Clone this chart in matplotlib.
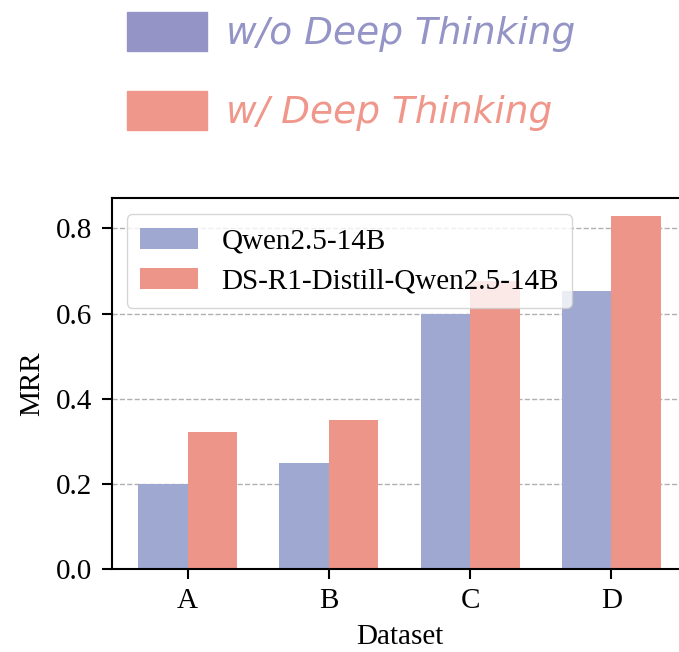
import numpy as np
import matplotlib.pyplot as plt
from matplotlib.patches import Rectangle

# datos
datasets = ['A', 'B', 'C', 'D']
mrr_qwen = [0.20, 0.25, 0.60, 0.654]
mrr_ds = [0.322, 0.35, 0.676, 0.83]
series = ['Qwen2.5-14B', 'DS-R1-Distill-Qwen2.5-14B']
top_labels = ['w/o Deep Thinking', 'w/ Deep Thinking']

c_blue = '#9FA8D0'
c_red = '#EE958A'
c_top = ['#9494C6', '#F0978B']

W, H = 679, 652
fig = plt.figure(figsize=(W / 100, H / 100), dpi=100)

# eje que se sale un poco por la derecha (la imagen original esta recortada)
ax = fig.add_axes([112 / W, 1 - 569 / H, (687 - 112) / W, (569 - 198) / H])

x = np.arange(len(datasets))
ancho = 0.35
ax.bar(x - ancho / 2, mrr_qwen, ancho, color=c_blue, label=series[0], zorder=2)
ax.bar(x + ancho / 2, mrr_ds, ancho, color=c_red, label=series[1], zorder=2)

ax.set_xticks(x)
ax.set_xticklabels(datasets)
ax.set_yticks([0.0, 0.2, 0.4, 0.6, 0.8])
ax.yaxis.grid(True, linestyle='--', color='#b0b0b0', linewidth=1.0, zorder=0)
ax.set_axisbelow(True)

serif = 'Liberation Serif'
for lab in ax.get_xticklabels() + ax.get_yticklabels():
    lab.set_fontfamily(serif)
    lab.set_fontsize(21)
ax.tick_params(length=7, width=1.5)
ax.tick_params(axis='y', pad=7)
ax.tick_params(axis='x', pad=7)
for s in ax.spines.values():
    s.set_linewidth(1.5)
ax.set_xlabel('Dataset', fontfamily=serif, fontsize=21, labelpad=7)
ax.set_ylabel('MRR', fontfamily=serif, fontsize=21, labelpad=8)

leg = ax.legend(loc='upper left', prop={'family': serif, 'size': 21},
                handlelength=2.0, handleheight=0.75, borderpad=0.45,
                labelspacing=0.45, handletextpad=0.8, framealpha=0.8,
                bbox_to_anchor=(0.0, 0.995))
leg.get_frame().set_edgecolor('#cccccc')

# leyenda de arriba con cajas y texto en cursiva
for i, lab in enumerate(top_labels):
    y0 = 12 + i * 79
    fig.patches.append(Rectangle((127 / W, 1 - (y0 + 39) / H), 80 / W, 39 / H,
                                 transform=fig.transFigure, color=c_top[i]))
    fig.text(226 / W, 1 - (y0 + 32) / H, lab, color=c_top[i], fontsize=27,
             style='italic', fontfamily='DejaVu Sans', va='baseline', ha='left')

fig.savefig('out.png', dpi=100)
